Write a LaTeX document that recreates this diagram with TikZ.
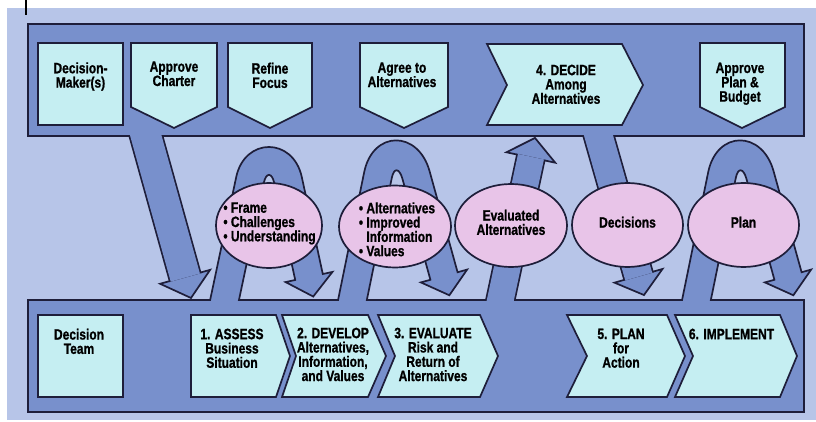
\documentclass[tikz,border=0pt]{standalone}
\usepackage{fontspec}
\setmainfont{Liberation Sans}[FakeStretch=0.8,FakeBold=1]
\usetikzlibrary{calc,shapes.geometric}
\definecolor{bgc}{HTML}{B7C5E8}
\definecolor{bandc}{HTML}{7890CC}
\definecolor{boxc}{HTML}{C5EEF2}
\definecolor{ellc}{HTML}{E8C4E8}
\definecolor{outl}{HTML}{1E1E3A}
\newcommand\fathead[6]{%
  \coordinate (#6) at ($(#2)!-#3!(#1)$);
  \filldraw[headst] ($(#2)!#4!90:(#6)$) -- ($(#2)!#5!90:(#6)$) -- (#6) -- ($(#2)!#5!-90:(#6)$) -- ($(#2)!#4!-90:(#6)$);
}
% #1 L0, #2 L1, #3 R1, #4 B, #5 prefix, #6 control length of outer top
\newcommand\archshape[6]{%
  \coordinate (#5lo0) at ($(#1)!14.1pt!90:(#2)$);
  \coordinate (#5li0) at ($(#1)!14.1pt!-90:(#2)$);
  \coordinate (#5lo1) at ($(#2)!14.1pt!-90:(#1)$);
  \coordinate (#5li1) at ($(#2)!14.1pt!90:(#1)$);
  \coordinate (#5ro1) at ($(#3)!14.1pt!90:(#4)$);
  \coordinate (#5ri1) at ($(#3)!14.1pt!-90:(#4)$);
  \coordinate (#5ro2) at ($(#4)!14.1pt!-90:(#3)$);
  \coordinate (#5ri2) at ($(#4)!14.1pt!90:(#3)$);
  \coordinate (#5t) at ($(#4)!-20pt!(#3)$);
  \coordinate (#5bo) at ($(#4)!24pt!-90:(#3)$);
  \coordinate (#5bi) at ($(#4)!24pt!90:(#3)$);
  \filldraw[headst] (#5lo0) -- (#5lo1)
    .. controls ($(#5lo1)!-#6!(#5lo0)$) and ($(#5ro1)!-#6!(#5ro2)$) .. (#5ro1)
    -- (#5ro2) -- (#5bo) -- (#5t) -- (#5bi) -- (#5ri2) -- (#5ri1)
    .. controls ($(#5ri1)!-11pt!(#5ri2)$) and ($(#5li1)!-11pt!(#5li0)$) .. (#5li1)
    -- (#5li0) -- cycle;
}
\begin{document}
\begin{tikzpicture}[x=1pt,y=-1pt,
  bandst/.style={fill=bandc,draw=outl,line width=2pt},
  boxst/.style={fill=boxc,draw=outl,line width=1.7pt,line join=miter},
  txt/.style={font=\fontsize{15}{14.3}\selectfont\bfseries,align=center,anchor=north,inner sep=0pt,text=black},
  ltxt/.style={txt,align=left},
  ellst/.style={ellipse,fill=ellc,draw=outl,line width=1.7pt,inner sep=0pt},
  headst/.style={fill=bandc,draw=outl,line width=1.7pt,line join=miter},
  legout/.style={draw=outl,line width=29.9pt},
  legin/.style={draw=bandc,line width=26.5pt},
  fatout/.style={draw=outl,line width=33.7pt},
  fatin/.style={draw=bandc,line width=30.3pt},
  midout/.style={draw=outl,line width=31.4pt},
  midin/.style={draw=bandc,line width=28pt},
]
\useasboundingbox (0,0) rectangle (816,422);
\fill[white] (0,0) rectangle (816,422);
\fill[bgc] (7,8) rectangle (816,420);
\draw[line width=1.2pt] (26,0) -- (26,15);

% bands
\path[bandst] (28,24) rectangle (804,136);
\path[bandst] (28,300) rectangle (804,412);

% big arrow from top band
\coordinate (a1s) at (143.7,128);
\coordinate (a1b) at (185.1,276.8);
\fathead{a1s}{a1b}{22pt}{16pt}{26pt}{a1t}
\draw[fatout] (a1s) -- ($(a1b)!-0.8pt!(a1s)$);
\draw[fatin] (a1s) -- ($(a1b)!-0.8pt!(a1s)$);

% arches
\coordinate (p1a) at (222,312);
\coordinate (p1b) at (250,180);
\coordinate (p1e) at (288,180);
\coordinate (p1f) at (309,277);
\archshape{p1a}{p1b}{p1e}{p1f}{q1}{41pt}

\coordinate (p2a) at (350,312);
\coordinate (p2b) at (378,175);
\coordinate (p2e) at (416,175);
\coordinate (p2f) at (444,276);
\archshape{p2a}{p2b}{p2e}{p2f}{q2}{43pt}

\coordinate (p5a) at (694,312);
\coordinate (p5b) at (722,175);
\coordinate (p5e) at (760,175);
\coordinate (p5f) at (788,276);
\archshape{p5a}{p5b}{p5e}{p5f}{q5}{43pt}

% up arrow to DECIDE
\coordinate (a2s) at (497.8,312);
\coordinate (a2b) at (530.8,157.5);
\fathead{a2s}{a2b}{20pt}{14.1pt}{25pt}{a2t}
\draw[legout] (a2s) -- ($(a2b)!-0.8pt!(a2s)$);
\draw[legin] (a2s) -- ($(a2b)!-0.8pt!(a2s)$);

% down arrow to Decisions
\coordinate (a3s) at (596.4,128);
\coordinate (a3b) at (638.5,275.8);
\fathead{a3s}{a3b}{20pt}{14.85pt}{25pt}{a3t}
\draw[midout] (a3s) -- ($(a3b)!-0.8pt!(a3s)$);
\draw[midin] (a3s) -- ($(a3b)!-0.8pt!(a3s)$);

% refill bands
\fill[bandc] (29,25) rectangle (803,135);
\fill[bandc] (29,301) rectangle (803,411);

% top boxes
\draw[boxst] (38,43) rectangle (123,125);
\draw[boxst] (131,43) -- (217,43) -- (217,107) -- (174,128) -- (131,107) -- cycle;
\draw[boxst] (228,43) -- (312,43) -- (312,107) -- (270,128) -- (228,107) -- cycle;
\draw[boxst] (360,43) -- (448,43) -- (448,107) -- (404,128) -- (360,107) -- cycle;
\draw[boxst] (487,44) -- (622,44) -- (643,85) -- (622,125) -- (487,125) -- (507,85) -- cycle;
\draw[boxst] (700,43) -- (785,43) -- (785,107) -- (742,128) -- (700,107) -- cycle;

% bottom boxes
\draw[boxst] (38,315) rectangle (123,397);
\draw[boxst] (191,315) -- (276,315) -- (290,356) -- (276,397) -- (191,397) -- cycle;
\draw[boxst] (282,315) -- (368,315) -- (386,356) -- (368,397) -- (282,397) -- (296,356) -- cycle;
\draw[boxst] (378,315) -- (480,315) -- (498,356) -- (480,397) -- (378,397) -- (395,356) -- cycle;
\draw[boxst] (567,315) -- (667,315) -- (685,356) -- (667,397) -- (567,397) -- (587,356) -- cycle;
\draw[boxst] (675,315) -- (780,315) -- (797,356) -- (780,397) -- (675,397) -- (693,356) -- cycle;

% ellipses
\node[ellst,minimum width=106pt,minimum height=85pt] (e1) at (269,225.5) {};
\node[ellst,minimum width=112pt,minimum height=82pt] (e2) at (395,226.5) {};
\node[ellst,minimum width=112pt,minimum height=83pt] (e3) at (511,225.5) {};
\node[ellst,minimum width=111pt,minimum height=84pt] (e4) at (627.5,225) {};
\node[ellst,minimum width=111pt,minimum height=84pt] (e5) at (743.5,225) {};

% texts top
\node[txt] (tdm) at (80.5,62.2) {Decision-\\Maker(s)};
\node[txt] (tac) at (174,61.2) {Approve\\Charter};
\node[txt] (trf) at (270,62.5) {Refine\\Focus};
\node[txt] (tag) at (402,62.2) {Agree to\\Alternatives};
\node[txt] (tdc) at (566,64.5) {4. DECIDE\\Among\\Alternatives};
\node[txt] (tapb) at (740,62.5) {Approve\\Plan \&\\Budget};

% texts bottom
\node[txt] (tdt) at (79,328.5) {Decision\\Team};
\node[txt] (tas) at (232,328.5) {1. ASSESS\\Business\\Situation};
\node[txt] (tdv) at (333,327.5) {2. DEVELOP\\Alternatives,\\Information,\\and Values};
\node[txt] (tev) at (433,327.5) {3. EVALUATE\\Risk and\\Return of\\Alternatives};
\node[txt] (tpl) at (621,328.5) {5. PLAN\\for\\Action};
\node[txt] (tim) at (731.5,328.5) {6. IMPLEMENT};

% texts ellipses
\node[ltxt] (te1) at (269.5,202.2) {• Frame\\• Challenges\\• Understanding};
\node[ltxt] (te2) at (397,202.2) {• Alternatives\\• Improved\\\hphantom{• }Information\\• Values};
\node[txt] (te3) at (511,209.5) {Evaluated\\Alternatives};
\node[txt] (te4) at (627.5,216.5) {Decisions};
\node[txt] (te5) at (743.5,216.5) {Plan};
\end{tikzpicture}
\end{document}
